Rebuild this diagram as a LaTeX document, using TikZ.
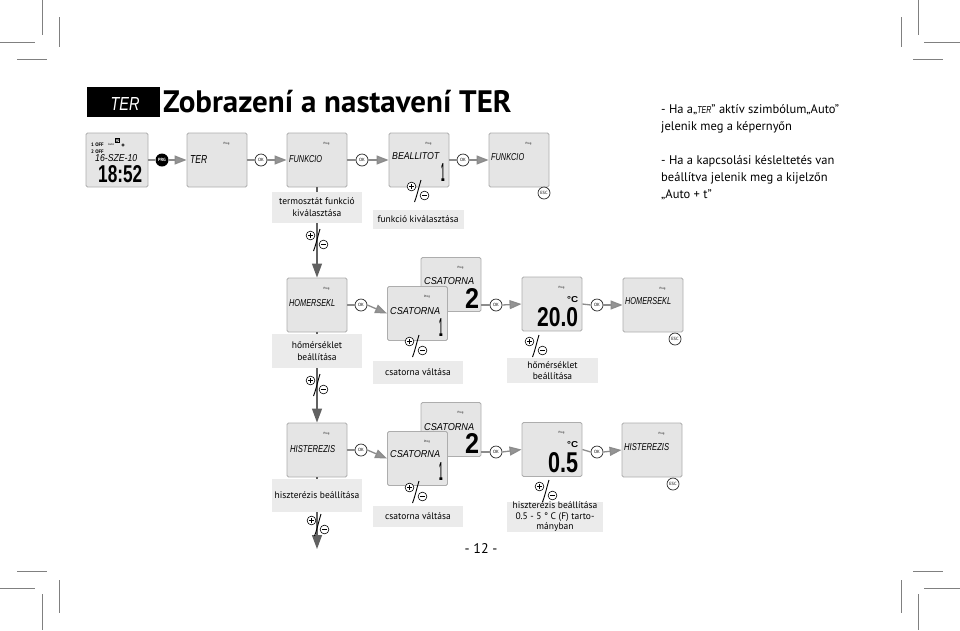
\documentclass[tikz,border=0pt]{standalone}
\usepackage{fontspec}
\setmainfont{PT Sans}
\newfontfamily\lcdfont{Liberation Sans}
\usetikzlibrary{arrows.meta}
\newcommand\lcdt[3]{\resizebox{#1pt}{#2pt}{\lcdfont\bfseries #3}}
\newcommand\lcdi[3]{\resizebox{#1pt}{#2pt}{\lcdfont\itshape #3}}
\tikzset{
 lcd/.style={draw=black!32, fill=black!10, rounded corners=1.5pt, line width=0.9pt, minimum width=60pt, minimum height=54pt, inner sep=0pt},
 conn/.style={draw=black!45, line width=1.3pt},
 harrow/.style={conn, -{Triangle[length=12pt,width=9pt,fill=black!42]}},
 vconn/.style={draw=black!62, line width=1.3pt},
 varrow/.style={vconn, -{Triangle[length=14pt,width=10pt]}},
 okc/.style={circle, draw=black!85, fill=white, line width=0.7pt, minimum size=12pt, inner sep=0pt, font=\fontsize{4.5}{4.5}\selectfont},
 lbl/.style={fill=black!8, align=center, font=\fontsize{9.5}{12.5}\selectfont, inner sep=0pt},
 prog/.style={font=\fontsize{3}{3}\selectfont, inner sep=0pt},
 lcdtext/.style={inner sep=0pt, anchor=west, text=black},
 pm/.pic={
   \draw[line width=0.6pt, fill=white] (-6.5,-4.5) circle (4.4);
   \draw[line width=0.5pt] (-8.6,-4.5) -- (-4.4,-4.5) (-6.5,-6.6) -- (-6.5,-2.4);
   \draw[line width=0.6pt, fill=white] (6.5,4.5) circle (4.4);
   \draw[line width=0.5pt] (4.4,4.5) -- (8.6,4.5);
   \draw[line width=0.9pt] (3,-11) .. controls (0.5,-3) and (-0.5,3) .. (-3.5,11);
 }
}
\begin{document}
\begin{tikzpicture}[x=1pt,y=-1pt]
\useasboundingbox (0,0) rectangle (960,630);
% crop marks
\begin{scope}[draw=black!50, line width=1pt]
\draw (42,0)--(42,35) (0,42)--(35,42) (59,17)--(59,47) (17,59)--(47,59);
\draw (918,0)--(918,35) (924,42)--(960,42) (901,17)--(901,47) (913,59)--(943,59);
\draw (17,571)--(47,571) (0,588)--(35,588) (59,580)--(59,613) (42,594)--(42,630);
\draw (913,571)--(943,571) (924,588)--(960,588) (901,580)--(901,613) (918,594)--(918,630);
\end{scope}
% title
\node[fill=black, minimum width=73pt, minimum height=30pt, inner sep=0pt] (tbox) at (123.5,102) {};
\node[inner sep=0pt, text=white] (tter) at (125,104) {\lcdi{29}{13}{TER}};
\node[inner sep=0pt, anchor=base west, font=\fontsize{31}{31}\selectfont\bfseries] (title) at (163,112) {Zobrazení a nastavení TER};
% right text
\node[inner sep=0pt, anchor=north west, align=left, font=\fontsize{12.5}{17}\selectfont] (note) at (661,104)
 {- Ha a„{\lcdi{14}{7}{TER}}” aktív szimbólum„Auto”\\jelenik meg a képernyőn\\[17pt]- Ha a kapcsolási késleltetés van\\beállítva jelenik meg a kijelzőn\\„Auto + t”};

% ---------- vertical connectors (behind)
\node[lcd] (c) at (317,160) {};
\node[lcd] (f) at (317,305) {};
\node[lcd] (j) at (317,450) {};
\coordinate (jend) at (317,549);
\draw[varrow] (c.south) -- (f.north);
\draw[varrow] (f.south) -- (j.north);
\draw[varrow] (j.south) -- (jend);

% ---------- row 1
\node[lcd, minimum width=62pt] (a) at (117,160) {};
\node[inner sep=0pt, anchor=base west, font=\fontsize{5}{5}\selectfont\bfseries] (a1) at (91,146.5) {1 OFF};
\node[inner sep=0pt, anchor=base west, font=\fontsize{5}{5}\selectfont\bfseries] (a2) at (91,153) {2 OFF};
\node[inner sep=0pt, anchor=base west, font=\fontsize{3}{3}\selectfont] (a3) at (108,145) {Auto};
\draw[line width=0.5pt] (117,140) circle (1.6);
\draw[line width=0.4pt] (115,138) rectangle (119,142);
\draw[line width=0.5pt] (123,145) circle (1.3);
\node[lcdtext] (a4) at (95,158.5) {\lcdi{42}{7}{16-SZE-10}};
\node[lcdtext] (a5) at (98,174.5) {\lcdt{44}{17}{18:52}};
\node[circle, fill=black, minimum size=13pt, inner sep=0pt, text=white, font=\fontsize{4.5}{4.5}\selectfont\bfseries] (prg) at (162,160) {PRG};
\node[lcd] (b) at (217,160) {};
\node[lcdtext] (bt) at (190,159) {\lcdi{17}{8}{TER}};
\node[okc] (ok1) at (261,160) {OK};
\node[lcdtext] (ct) at (289,159) {\lcdi{33}{7}{FUNKCIO}};
\node[okc] (ok2) at (362,160) {OK};
\node[lcd] (d) at (419,160) {};
\node[lcdtext] (dt) at (392,156) {\lcdi{47}{7}{BEALLITOT}};
\node[lcdtext] (dn) at (441,172.5) {\lcdt{3.5}{18}{1}};
\node[okc] (ok3) at (463,160) {OK};
\node[lcd] (e) at (519,160) {};
\node[lcdtext] (et) at (491,157) {\lcdi{33}{7}{FUNKCIO}};
\node[okc] (esc1) at (544,193) {ESC};
\draw[conn] (a.east) -- (prg.west);
\draw[harrow] (prg.east) -- (b.west);
\draw[conn] (b.east) -- (ok1.west);
\draw[harrow] (ok1.east) -- (c.west);
\draw[conn] (c.east) -- (ok2.west);
\draw[harrow] (ok2.east) -- (d.west);
\draw[conn] (d.east) -- (ok3.west);
\draw[harrow] (ok3.east) -- (e.west);
\node[lbl, minimum width=90pt, minimum height=31pt] (l1) at (317,207) {termosztát funkció\\kiválasztása};
\node[lbl, minimum width=91pt, minimum height=19pt] (l2) at (418,219) {funkció kiválasztása};
\pic at (418,191) {pm};
\pic at (317,240) {pm};

% ---------- row 2
\node[lcdtext] (ft) at (289,303) {\lcdi{46}{7}{HOMERSEKL}};
\node[okc] (ok4) at (361,305) {OK};
\node[lcd] (g2) at (451,284.5) {};
\node[lcdtext] (g2t) at (424,281.5) {\lcdi{50}{7}{CSATORNA}};
\node[lcdtext] (g2n) at (465,298) {\lcdt{14}{20}{2}};
\node[lcd] (g1) at (417.5,313.5) {};
\node[lcdtext] (g1t) at (390,311) {\lcdi{50}{7}{CSATORNA}};
\node[lcdtext] (g1n) at (439,327.5) {\lcdt{3.5}{18}{1}};
\node[okc] (ok5) at (496,305) {OK};
\node[lcd] (h) at (552,304) {};
\node[lcdtext] (hd) at (567,300) {\lcdt{11}{6}{°C}};
\node[lcdtext] (ht) at (537,317) {\lcdt{41}{19}{20.0}};
\node[okc] (ok6) at (597,305) {OK};
\node[lcd] (i) at (653,305) {};
\node[lcdtext] (it) at (625,301) {\lcdi{46}{7}{HOMERSEKL}};
\node[okc] (esc2) at (675,339) {ESC};
\draw[conn] (f.east) -- (ok4.west);
\draw[harrow] (ok4.east) -- (g1.west);
\draw[conn] (ok5.west -| g2.east) -- (ok5.west);
\draw[harrow] (ok5.east) -- (h.west);
\draw[conn] (h.east) -- (ok6.west);
\draw[harrow] (ok6.east) -- (i.west);
\node[lbl, minimum width=90pt, minimum height=34pt] (l3) at (317,351) {hőmérséklet\\beállítása};
\node[lbl, minimum width=90pt, minimum height=23pt] (l4) at (418,372.5) {csatorna váltása};
\node[lbl, minimum width=91pt, minimum height=25pt, font=\fontsize{9.5}{11}\selectfont] (l5) at (552.5,370.5) {hőmérséklet\\beállítása};
\pic at (317,385) {pm};
\pic at (416,346) {pm};
\pic at (536,346) {pm};

% ---------- row 3
\node[lcdtext] (jt) at (290,449) {\lcdi{45}{7}{HISTEREZIS}};
\node[okc] (ok7) at (361,450) {OK};
\node[lcd] (g4) at (451,429.5) {};
\node[lcdtext] (g4t) at (424,427.5) {\lcdi{50}{7}{CSATORNA}};
\node[lcdtext] (g4n) at (465,443) {\lcdt{14}{20}{2}};
\node[lcd] (g3) at (417.5,458.5) {};
\node[lcdtext] (g3t) at (390,454) {\lcdi{50}{7}{CSATORNA}};
\node[lcdtext] (g3n) at (439,471) {\lcdt{3.5}{18}{1}};
\node[okc] (ok8) at (496,452) {OK};
\node[lcd] (k) at (552,449.5) {};
\node[lcdtext] (kd) at (567,444.5) {\lcdt{11}{6}{°C}};
\node[lcdtext] (kt) at (548,462.5) {\lcdt{30}{20}{0.5}};
\node[okc] (ok9) at (597,452) {OK};
\node[lcd] (l) at (652,450) {};
\node[lcdtext] (lt) at (624,447) {\lcdi{45}{7}{HISTEREZIS}};
\node[okc] (esc3) at (673,484) {ESC};
\draw[conn] (j.east) -- (ok7.west);
\draw[harrow] (ok7.east) -- (g3.west);
\draw[conn] (ok8.west -| g4.east) -- (ok8.west);
\draw[harrow] (ok8.east) -- (k.west);
\draw[conn] (k.east) -- (ok9.west);
\draw[harrow] (ok9.east) -- (l.west);
\node[lbl, minimum width=90pt, minimum height=33pt] (l6) at (317,495.5) {hiszterézis beállítása};
\node[lbl, minimum width=90pt, minimum height=21pt] (l7) at (418,516.5) {csatorna váltása};
\node[lbl, minimum width=96pt, minimum height=28pt, font=\fontsize{9.5}{10.5}\selectfont] (l8) at (555,517) {hiszterézis beállítása\\0.5 - 5 ° C (F) tarto-\\mányban};
\pic at (318,525) {pm};
\pic at (416,492) {pm};
\pic at (546,491) {pm};

% prog marks
\foreach \n in {b,c,d,e,f,g1,g2,h,i,j,g3,g4,k,l}
  \node[prog] (p\n) at ([xshift=40pt,yshift=-11pt]\n.north west) {Prog};

\node[inner sep=0pt, font=\fontsize{14}{14}\selectfont] (page) at (481,549) {- 12 -};
\end{tikzpicture}
\end{document}
